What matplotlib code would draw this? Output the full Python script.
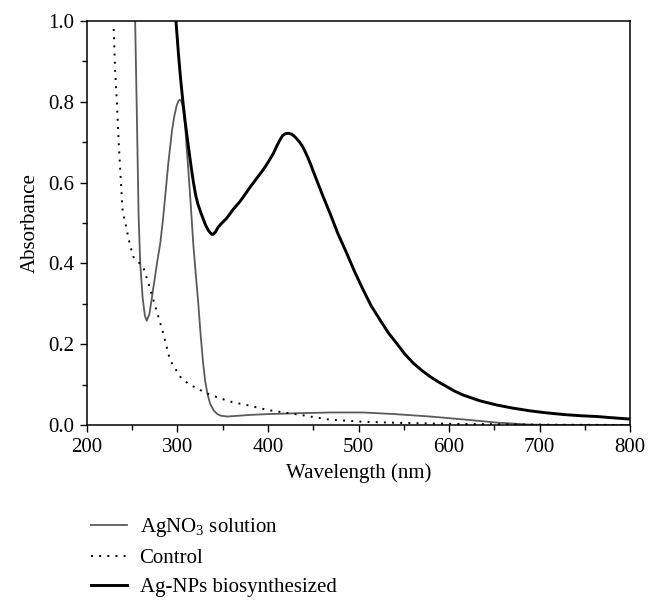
import matplotlib
matplotlib.use("Agg")
import matplotlib.pyplot as plt
from matplotlib.ticker import MultipleLocator

# AgNO3 solution (gray thin line)
agno3_wl = [251.5, 253.2, 255, 257, 258.8, 261.5, 264, 266, 269, 272, 275, 278, 281, 284, 287,
            289.5, 291.7, 294, 296.5, 299, 301, 302.8, 304.5, 306.5, 308.5, 310, 312, 314.5, 317.5,
            320.5, 323, 325.5, 328, 330.5, 333, 336, 340, 344, 348, 355, 362, 380, 400, 430, 469,
            505, 540, 579, 615, 652.7, 689, 720, 760, 800]
agno3_abs = [1.15, 1.0, 0.78, 0.52, 0.40, 0.314, 0.27, 0.258, 0.275, 0.32, 0.365, 0.41, 0.45, 0.51, 0.58,
             0.64, 0.685, 0.73, 0.765, 0.79, 0.802, 0.805, 0.80, 0.78, 0.74, 0.69, 0.63, 0.55, 0.446,
             0.365, 0.30, 0.225, 0.16, 0.11, 0.078, 0.053, 0.036, 0.027, 0.023, 0.021, 0.022, 0.025, 0.027, 0.029, 0.031,
             0.031, 0.027, 0.021, 0.014, 0.006, 0.001, 0.0, 0.0, 0.0]

# Control (dotted line)
control_wl = [229.5, 231, 233, 235, 237, 239.4, 242.4, 246, 251, 256, 262, 268, 275, 284.3, 291.7,
              302.8, 311, 321, 333, 347, 360, 376.5, 400, 435.7, 469, 505, 550, 600, 650, 700, 800]
control_abs = [0.98, 0.88, 0.80, 0.70, 0.62, 0.528, 0.50, 0.46, 0.417, 0.405, 0.392, 0.35, 0.297, 0.227, 0.161,
               0.12, 0.104, 0.091, 0.078, 0.066, 0.057, 0.0495, 0.037, 0.025, 0.013, 0.008, 0.005, 0.003, 0.002, 0.001, 0.0]

# Ag-NPs biosynthesized (black thick line)
agnp_wl = [297.5, 298.3, 301, 303.5, 306, 308.5, 312, 315, 317.5, 320, 322.5, 326.7, 331, 334, 336.5, 338,
           339.5, 342, 345, 350, 354.4, 362, 369, 375, 380, 385, 390, 394.8, 400, 405.9, 410, 413.3, 416,
           419, 422.5, 426, 429, 432, 435, 438, 441, 444, 447, 450, 453.8, 461, 468.5, 477, 487, 496,
           505.3, 514, 523.8, 533, 542.2, 551, 560.6, 570, 579, 588, 597.5, 606, 615.8, 634, 652.7,
           670, 689.5, 708, 726.3, 745, 763.2, 780, 798, 800]
agnp_abs = [1.03, 1.0, 0.92, 0.855, 0.80, 0.75, 0.69, 0.64, 0.602, 0.57, 0.547, 0.52, 0.495, 0.482, 0.475, 0.472,
            0.472, 0.478, 0.49, 0.502, 0.512, 0.535, 0.553, 0.572, 0.588, 0.603, 0.618, 0.632, 0.65, 0.672, 0.692, 0.706, 0.716,
            0.721, 0.722, 0.720, 0.715, 0.708, 0.700, 0.690, 0.677, 0.662, 0.646, 0.628, 0.606, 0.565, 0.524, 0.475, 0.425, 0.378,
            0.334, 0.295, 0.260, 0.228, 0.202, 0.176, 0.153, 0.135, 0.120, 0.107, 0.095, 0.084, 0.074, 0.060, 0.0495,
            0.042, 0.035, 0.030, 0.026, 0.023, 0.021, 0.018, 0.015, 0.015]

labels = ["AgNO$_3$ solution", "Control", "Ag-NPs biosynthesized"]
x_ticks = [200, 300, 400, 500, 600, 700, 800]
y_ticks = [0.0, 0.2, 0.4, 0.6, 0.8, 1.0]

plt.rcParams['font.family'] = ['Liberation Serif', 'DejaVu Serif']
plt.rcParams['mathtext.fontset'] = 'custom'
plt.rcParams['mathtext.rm'] = 'Liberation Serif'

fig = plt.figure(figsize=(6.57, 6.07), dpi=100)
ax = fig.add_axes([87/657, 1 - 425/607, (630-87)/657, (425-21)/607])

l1, = ax.plot(agno3_wl, agno3_abs, color='#5a5a5a', lw=1.3)
l2, = ax.plot(control_wl, control_abs, color='black', lw=1.4, linestyle=(0, (1, 3.2)))
l3, = ax.plot(agnp_wl, agnp_abs, color='black', lw=2.1)

ax.set_xlim(200, 800)
ax.set_ylim(0, 1.0)
ax.set_xticks(x_ticks)
ax.set_yticks(y_ticks)
ax.set_yticklabels([f"{v:.1f}" for v in y_ticks])
ax.xaxis.set_minor_locator(MultipleLocator(50))
ax.yaxis.set_minor_locator(MultipleLocator(0.1))
ax.tick_params(which='major', direction='out', length=5, width=1.0, labelsize=15, pad=4)
ax.tick_params(which='minor', direction='out', length=3.5, width=1.0)
for s in ax.spines.values():
    s.set_linewidth(1.1)

ax.set_xlabel("Wavelength (nm)", fontsize=15, labelpad=5)
ax.set_ylabel("Absorbance", fontsize=15, labelpad=6)

fig.legend([l1, l2, l3], labels, loc='upper left', bbox_to_anchor=(91/657, 1 - 516/607),
           frameon=False, fontsize=15, handlelength=1.73, handletextpad=0.6, labelspacing=0.45,
           borderpad=0, borderaxespad=0)

fig.savefig("out.png", dpi=100)
